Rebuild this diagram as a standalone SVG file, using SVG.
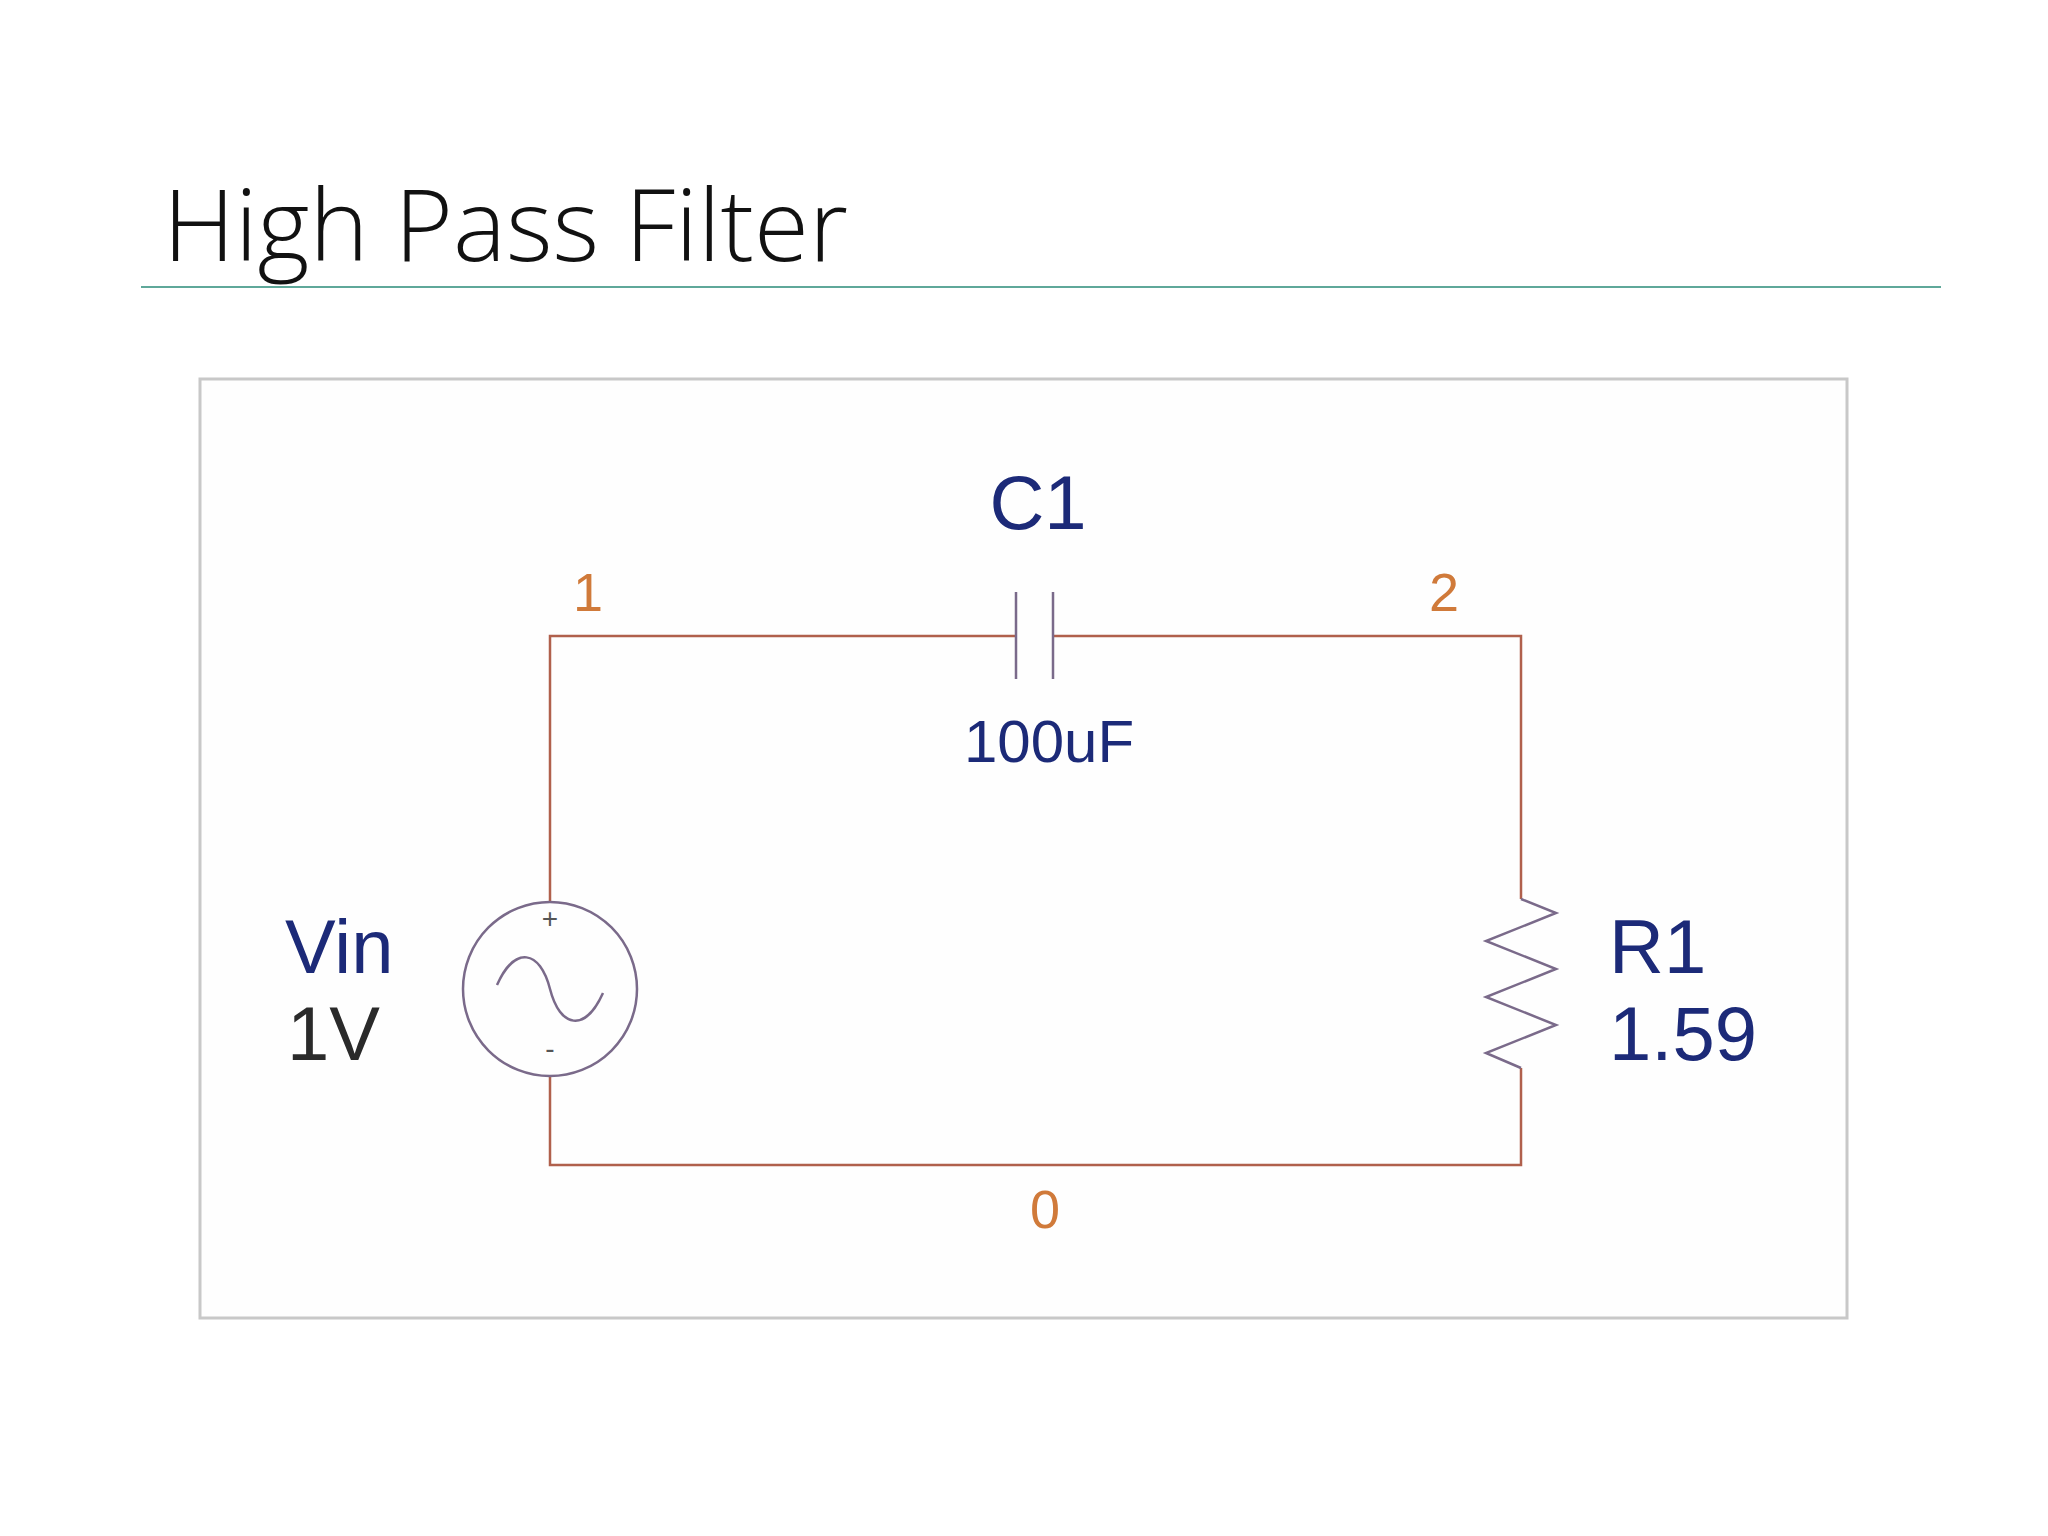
<svg xmlns="http://www.w3.org/2000/svg" width="2048" height="1536" viewBox="0 0 2048 1536">
<style>
.w{stroke:#b0604c;stroke-width:2.5;fill:none}
.c{stroke:#7a6a8a;stroke-width:2.5;fill:none}
.n{font-family:"Liberation Sans",Arial,sans-serif;fill:#d07a3a;font-size:54px}
.l{font-family:"Liberation Sans",Arial,sans-serif;fill:#1c2a78;font-size:76px}
</style>
<rect width="2048" height="1536" fill="#fff"/>
<text x="163" y="261" font-family="Open Sans,sans-serif" font-weight="300" font-size="100" fill="#111">High Pass Filter</text>
<line x1="141" y1="287" x2="1941" y2="287" stroke="#5fa89a" stroke-width="2"/>
<rect x="200" y="379" width="1647" height="939" fill="#fefefe" stroke="#c8c8c8" stroke-width="3"/>
<g id="connectors">
<polyline class="w" points="1016,636 550,636 550,902"/>
<polyline class="w" points="1053,636 1521,636 1521,899"/>
<polyline class="w" points="550,1077 550,1165 1521,1165 1521,1068"/>
</g>
<g id="C1">
<line class="c" x1="1016" y1="592" x2="1016" y2="679"/>
<line class="c" x1="1053" y1="592" x2="1053" y2="679"/>
<text class="l" x="1038" y="529" text-anchor="middle">C1</text>
<text class="l" x="1049" y="762" text-anchor="middle" style="font-size:60px">100uF</text>
</g>
<g id="Vin">
<circle cx="550" cy="989" r="87" fill="none" stroke="#7a6a8a" stroke-width="2.5"/>
<path class="c" d="M497,985 C515,945 540,950 550,989 C560,1028 585,1033 603,993"/>
<text x="550" y="928" text-anchor="middle" font-family="Liberation Sans,sans-serif" font-size="28" fill="#555">+</text>
<text x="550" y="1058" text-anchor="middle" font-family="Liberation Sans,sans-serif" font-size="28" fill="#555">-</text>
<text class="l" x="285" y="973">Vin</text>
<text class="l" x="287" y="1060" style="fill:#2a2a2a">1V</text>
</g>
<g id="R1">
<polyline class="c" points="1521,899 1556,913 1486,941 1556,969 1486,997 1556,1025 1486,1053 1521,1068"/>
<text class="l" x="1609" y="973">R1</text>
<text class="l" x="1609" y="1060">1.59</text>
</g>
<g id="nodes">
<text class="n" x="588" y="611" text-anchor="middle">1</text>
<text class="n" x="1444" y="611" text-anchor="middle">2</text>
<text class="n" x="1045" y="1228" text-anchor="middle">0</text>
</g>
</svg>
